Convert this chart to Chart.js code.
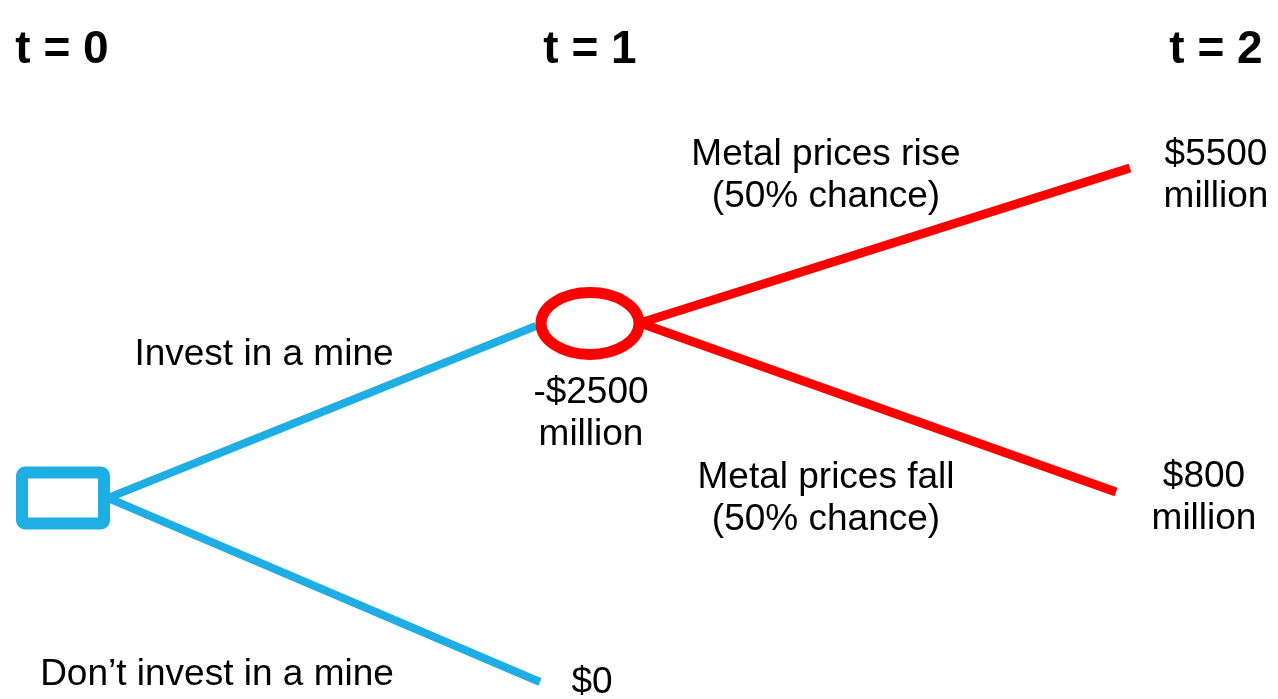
<!DOCTYPE html>
<html>
<head>
<meta charset="utf-8">
<script src="https://cdn.jsdelivr.net/npm/chart.js@4/dist/chart.umd.min.js"></script>
<style>
  body { margin: 0; background: #fff; }
  #tree { display: block; }
</style>
</head>
<body>
<canvas id="tree" width="1278" height="699"></canvas>
<script>
// time columns along the top
const timeLabels = ['t = 0', 't = 1', 't = 2'];
const timeX = [62, 590, 1216];

// tree nodes (layout units = canvas px)
const decisionNode = [63, 498];
const chanceNode = [589, 323];

// branches: invest, don't invest, prices rise, prices fall
const branchNames = [['Invest in a mine'], ['Don\u2019t invest in a mine'], ['Metal prices rise'], ['Metal prices fall']];
const branchStart = [[108, 498], [108, 498], [640, 323], [640, 323]];
const branchEnd = [[536, 326], [540, 682], [1130, 168], [1116, 492]];
const branchLabelAt = [[264, 365], [217, 685], [826, 165], [826, 488]];
const riseFallChance = [50, 50];

// cash flows in $ million
const investCost = -2500;
const costLabelAt = [591, 403];
const payoffs = [5500, 800, 0];
const payoffLabelAt = [[1216, 165], [1204, 487], [592, 693]];

const BLUE = '#1eaee4';
const RED = '#ff0000';
const FONT = "'Liberation Sans', Arial, sans-serif";

function money(v) {
    return (v < 0 ? '-' : '') + '$' + Math.abs(v);
}

let datasets = branchStart.map(function (s, i) {
    return {
        data: [{x: s[0], y: s[1]}, {x: branchEnd[i][0], y: branchEnd[i][1]}],
        showLine: true,
        borderColor: i < 2 ? BLUE : RED,
        borderWidth: i < 2 ? 8 : 9,
        borderCapStyle: 'butt',
        pointRadius: 0
    };
});

// nodes and text go on top of the branch lines
const treeDraw = {
    id: 'treeDraw',
    afterDatasetsDraw(chart) {
        const ctx = chart.ctx;
        const xs = chart.scales.x, ys = chart.scales.y;
        const px = p => [xs.getPixelForValue(p[0]), ys.getPixelForValue(p[1])];

        ctx.save();

        // decision node (square)
        let d = px(decisionNode);
        ctx.beginPath();
        ctx.roundRect(d[0] - 41, d[1] - 25.5, 82, 51, 3);
        ctx.fillStyle = '#fff';
        ctx.fill();
        ctx.lineWidth = 12;
        ctx.strokeStyle = BLUE;
        ctx.stroke();

        // chance node (ellipse)
        let c = px(chanceNode);
        ctx.beginPath();
        ctx.ellipse(c[0] + 1, c[1] + 0.5, 49, 31, 0, 0, Math.PI * 2);
        ctx.fillStyle = '#fff';
        ctx.fill();
        ctx.lineWidth = 11;
        ctx.strokeStyle = RED;
        ctx.stroke();

        ctx.fillStyle = '#000';
        ctx.textAlign = 'center';
        ctx.textBaseline = 'alphabetic';

        // time headings
        ctx.font = 'bold 46px ' + FONT;
        timeLabels.forEach(function (t, i) {
            ctx.fillText(t, xs.getPixelForValue(timeX[i]), ys.getPixelForValue(63));
        });

        ctx.font = '37px ' + FONT;
        function lines(arr, at) {
            let p = px(at);
            arr.forEach(function (s, k) {
                ctx.fillText(s, p[0], p[1] + k * 42);
            });
        }

        branchNames.forEach(function (name, i) {
            let txt = name.slice();
            if (i >= 2) txt.push('(' + riseFallChance[i - 2] + '% chance)');
            lines(txt, branchLabelAt[i]);
        });

        lines([money(investCost), 'million'], costLabelAt);
        payoffs.forEach(function (v, i) {
            lines(v === 0 ? [money(v)] : [money(v), 'million'], payoffLabelAt[i]);
        });

        ctx.restore();
    }
};

new Chart(document.getElementById('tree'), {
    type: 'scatter',
    data: { datasets: datasets },
    options: {
        responsive: false,
        animation: false,
        events: [],
        layout: { padding: 0 },
        scales: {
            x: { type: 'linear', min: 0, max: 1278, display: false },
            y: { type: 'linear', min: 0, max: 699, reverse: true, display: false }
        },
        plugins: {
            legend: { display: false },
            tooltip: { enabled: false }
        }
    },
    plugins: [treeDraw]
});
</script>
</body>
</html>
